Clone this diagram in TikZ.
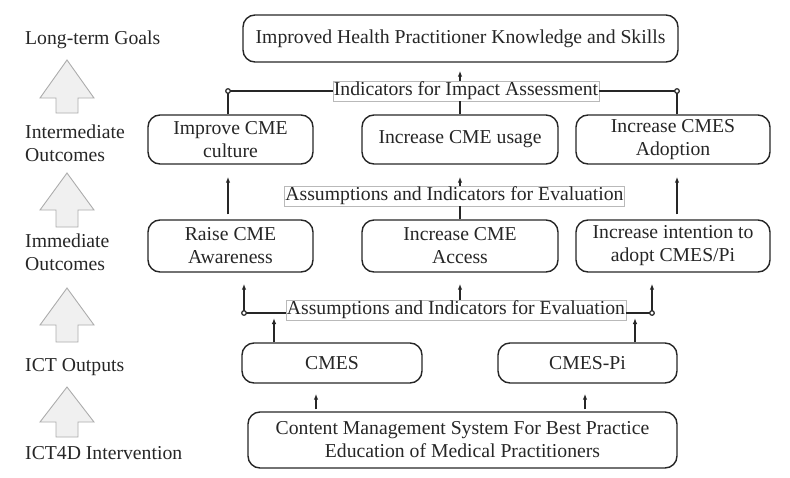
\documentclass[tikz,border=0pt]{standalone}
\usepackage{fontspec}
\setmainfont{Liberation Serif}
\usetikzlibrary{arrows.meta,calc}
\begin{document}
\begin{tikzpicture}[x=1pt,y=-1pt,
  every node/.style={text=black!85},
  fs/.style={font=\fontsize{19.7}{23}\selectfont},
  box/.style={fs,draw=black!85,rounded corners=12pt,line width=1.4pt,align=center,inner sep=0pt},
  lab/.style={fs,draw=gray!55,fill=white,line width=0.6pt,inner sep=1pt,outer sep=0pt},
  side/.style={fs,anchor=west,align=left,inner sep=0pt},
  ln/.style={draw=black!85,line width=1.4pt},
  arr/.style={ln,-{Latex[open,length=6pt,width=4.5pt]}},
  dot/.style={draw=black!85,fill=white,line width=1.2pt},
  bigarrow/.style={draw=gray!65,fill=gray!12,line width=0.9pt}]
\useasboundingbox (0,0) rectangle (790,477);

% left column
\node[side] (lg) at (25,40) {Long-term Goals};
\node[side] (io) at (25,143.5) {Intermediate\\Outcomes};
\node[side] (mo) at (25,252) {Immediate\\Outcomes};
\node[side] (ot) at (25,367) {ICT Outputs};
\node[side] (iv) at (25,453) {ICT4D Intervention};
\foreach \t/\b/\e in {60/98/113,173/210/227,288/325/342,387/422/437}{
  \path[bigarrow] (67,\t) -- (94,\b) -- (78,\b) -- (78,\e) -- (56,\e) -- (56,\b) -- (40,\b) -- cycle;
}

% boxes
\node[box,minimum width=435pt,minimum height=47pt] (goal) at (460.5,38.5) {Improved Health Practitioner Knowledge and Skills};
\node[box,minimum width=165pt,minimum height=49pt] (imp1) at (230.5,139.5) {Improve CME\\culture};
\node[box,minimum width=196pt,minimum height=49pt] (imp2) at (460,139.5) {Increase CME usage};
\node[box,minimum width=194pt,minimum height=49pt] (imp3) at (673,139.5) {Increase CMES\\Adoption};
\node[box,minimum width=165pt,minimum height=52pt] (imm1) at (230.5,246) {Raise CME\\Awareness};
\node[box,minimum width=196pt,minimum height=52pt] (imm2) at (460,246) {Increase CME\\Access};
\node[box,minimum width=194pt,minimum height=52pt] (imm3) at (673,246) {Increase intention to\\adopt CMES/Pi};
\node[box,minimum width=180pt,minimum height=40pt] (cmes) at (332,363) {CMES};
\node[box,minimum width=179pt,minimum height=40pt] (cmespi) at (587.5,363) {CMES-Pi};
\node[box,minimum width=429pt,minimum height=56pt] (cms) at (462.5,440) {Content Management System For Best Practice\\Education of Medical Practitioners};

% labels
\node[lab] (ind1) at (466,91) {Indicators for Impact Assessment};
\node[lab] (ind2) at (454.5,196) {Assumptions and Indicators for Evaluation};
\node[lab] (ind3) at (456,310) {Assumptions and Indicators for Evaluation};

% coordinates
\coordinate (c1) at (228,91);
\coordinate (c2) at (677,91);
\coordinate (c3) at (244,313);
\coordinate (c4) at (652,313);
\coordinate (c5) at (274,313);
\coordinate (c6) at (635,313);
\coordinate (c7) at (316,0);
\coordinate (c8) at (585,0);

% top level connectors
\draw[ln] (c1 |- imp1.north) -- (c1) -- (ind1.west |- c1);
\draw[ln] (c2 |- imp3.north) -- (c2) -- (ind1.east |- c2);
\draw[ln] (imp2.north) -- (ind1.south -| imp2.north);
\draw[arr,shorten >=8pt] (ind1.north -| imp2.north) -- (goal.south -| imp2.north);
\path[dot] (c1) circle (2.3pt);
\path[dot] (c2) circle (2.3pt);

% middle level
\draw[arr,shorten <=5pt,shorten >=12pt] (imm1.north -| c1) -- (imp1.south -| c1);
\draw[arr,shorten <=5pt,shorten >=12pt] (imm3.north -| c2) -- (imp3.south -| c2);
\draw[ln] (imm2.north) -- (ind2.south -| imm2.north);
\draw[arr,shorten >=12pt] (ind2.north -| imm2.north) -- (imp2.south);

% lower level
\draw[ln] (ind3.west |- c3) -- (c3);
\draw[arr,shorten >=11pt] (c3) -- (c3 |- imm1.south);
\draw[ln] (ind3.east |- c4) -- (c4);
\draw[arr,shorten >=11pt] (c4) -- (c4 |- imm3.south);
\draw[arr,shorten >=11pt] (ind3.north -| imm2.south) -- (imm2.south);
\draw[arr,shorten >=5pt] (c5 |- cmes.north) -- (c5);
\draw[arr,shorten >=5pt] (c6 |- cmespi.north) -- (c6);
\path[dot] (c3) circle (2.3pt);
\path[dot] (c4) circle (2.3pt);

% bottom
\draw[arr,shorten <=2pt,shorten >=10pt] (c7 |- cms.north) -- (c7 |- cmes.south);
\draw[arr,shorten <=2pt,shorten >=10pt] (c8 |- cms.north) -- (c8 |- cmespi.south);
\end{tikzpicture}
\end{document}
